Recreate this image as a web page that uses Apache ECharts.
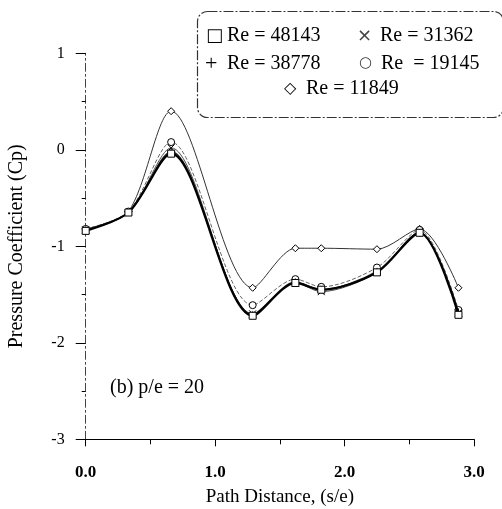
<!DOCTYPE html>
<html><head><meta charset="utf-8">
<script src="https://cdn.jsdelivr.net/npm/echarts@6/dist/echarts.min.js"></script>
<style>html,body{margin:0;padding:0;background:#fff}#c{width:502px;height:509px}</style>
</head><body><div id="c"></div>
<script>
const pathDistance = [0, 0.33, 0.66, 1.29, 1.62, 1.82, 2.25, 2.58, 2.88];
const re48143 = [-0.84, -0.65, -0.04, -1.72, -1.38, -1.45, -1.27, -0.86, -1.71];
const re38778 = [-0.83, -0.65, -0.02, -1.71, -1.37, -1.45, -1.26, -0.86, -1.68];
const re31362 = [-0.83, -0.65, 0.02, -1.70, -1.38, -1.47, -1.27, -0.85, -1.69];
const re19145 = [-0.82, -0.64, 0.08, -1.61, -1.34, -1.42, -1.22, -0.83, -1.66];
const re11849 = [-0.82, -0.64, 0.40, -1.43, -1.02, -1.02, -1.03, -0.82, -1.43];
const seriesNames = ['Re = 48143', 'Re = 38778', 'Re = 31362', 'Re = 19145', 'Re = 11849'];
const xTicks = [0, 1, 2, 3];
const yTicks = [-3, -2, -1, 0, 1];

const FONT = '"Liberation Serif","DejaVu Serif",serif';
const pair = arr => pathDistance.map((x, i) => [x, arr[i]]);

const chart = echarts.init(document.getElementById('c'), null, {renderer: 'canvas'});

function mk(name, data, symbol, lineColor, width, type, z) {
  return {
    name, type: 'line', data: pair(data), smooth: 0.3, symbol, symbolSize: 7, z,
    lineStyle: {color: lineColor, width, type},
    itemStyle: {color: '#fff', borderColor: '#000', borderWidth: 1},
    emphasis: {disabled: true}
  };
}

chart.setOption({
  animation: false,
  backgroundColor: '#fff',
  textStyle: {fontFamily: FONT},
  grid: {left: 85.7, right: 28, top: 53.3, bottom: 69.7, containLabel: false, outerBoundsMode: 'none'},
  xAxis: {
    type: 'value', min: xTicks[0], max: xTicks[xTicks.length - 1], interval: 1,
    name: 'Path Distance, (s/e)', nameLocation: 'middle', nameGap: 48,
    nameTextStyle: {fontFamily: FONT, fontSize: 19, color: '#000'},
    axisLine: {onZero: false, lineStyle: {color: '#000', width: 1.2}},
    axisTick: {show: true, length: 7, lineStyle: {color: '#000'}},
    minorTick: {show: true, splitNumber: 2, length: 5, lineStyle: {color: '#000'}},
    splitLine: {show: false},
    axisLabel: {fontFamily: FONT, fontSize: 17, fontWeight: 'bold', color: '#000', margin: 25,
      formatter: v => v.toFixed(1)}
  },
  yAxis: {
    type: 'value', min: yTicks[0], max: yTicks[yTicks.length - 1], interval: 1,
    name: 'Pressure Coefficient (Cp)', nameLocation: 'middle', nameGap: 59,
    nameTextStyle: {fontFamily: FONT, fontSize: 20, color: '#000'},
    axisLine: {onZero: false, lineStyle: {color: '#444', width: 1, type: [8, 3, 2, 3]}},
    axisTick: {show: true, length: 10, lineStyle: {color: '#000'}},
    minorTick: {show: true, splitNumber: 2, length: 4, lineStyle: {color: '#000'}},
    splitLine: {show: false},
    axisLabel: {fontFamily: FONT, fontSize: 16, color: '#000', margin: 21}
  },
  series: [
    mk(seriesNames[4], re11849, 'diamond', '#333', 1, 'solid', 2),
    mk(seriesNames[3], re19145, 'circle', '#666', 1, 'dashed', 3),
    mk(seriesNames[2], re31362, 'path://M0,0L10,10M10,0L0,10', '#555', 1, 'solid', 4),
    mk(seriesNames[1], re38778, 'path://M5,0L5,10M0,5L10,5', '#222', 1.5, 'solid', 5),
    mk(seriesNames[0], re48143, 'rect', '#000', 2.2, 'solid', 6)
  ],
  graphic: [
    {type: 'rect', left: 195, top: 9, shape: {width: 306, height: 106, r: 10},
      style: {fill: 'none', stroke: '#333', lineWidth: 1.2, lineDash: [10, 2, 2, 2]}, z: 1},
    {type: 'text', left: 206, top: 27, style: {text: '□', font: '18px "DejaVu Sans"', fill: '#000'}},
    {type: 'text', left: 227, top: 26, style: {text: seriesNames[0], font: '20px ' + FONT, fill: '#000'}},
    {type: 'text', left: 357, top: 27, style: {text: '×', font: '18px "DejaVu Sans"', fill: '#444'}},
    {type: 'text', left: 380, top: 26, style: {text: seriesNames[2], font: '20px ' + FONT, fill: '#000'}},
    {type: 'text', left: 205, top: 53, style: {text: '+', font: '22px ' + FONT, fill: '#000'}},
    {type: 'text', left: 227, top: 54, style: {text: seriesNames[1], font: '20px ' + FONT, fill: '#000'}},
    {type: 'text', left: 359, top: 56, style: {text: '○', font: '15px "DejaVu Sans"', fill: '#333'}},
    {type: 'text', left: 381, top: 54, style: {text: 'Re  = 19145', font: '20px ' + FONT, fill: '#000'}},
    {type: 'text', left: 284, top: 81, style: {text: '◇', font: '16px "DejaVu Sans"', fill: '#000'}},
    {type: 'text', left: 306, top: 79, style: {text: seriesNames[4], font: '20px ' + FONT, fill: '#000'}},
    {type: 'text', left: 110, top: 378, style: {text: '(b) p/e = 20', font: '20px ' + FONT, fill: '#000'}}
  ]
});
</script></body></html>
